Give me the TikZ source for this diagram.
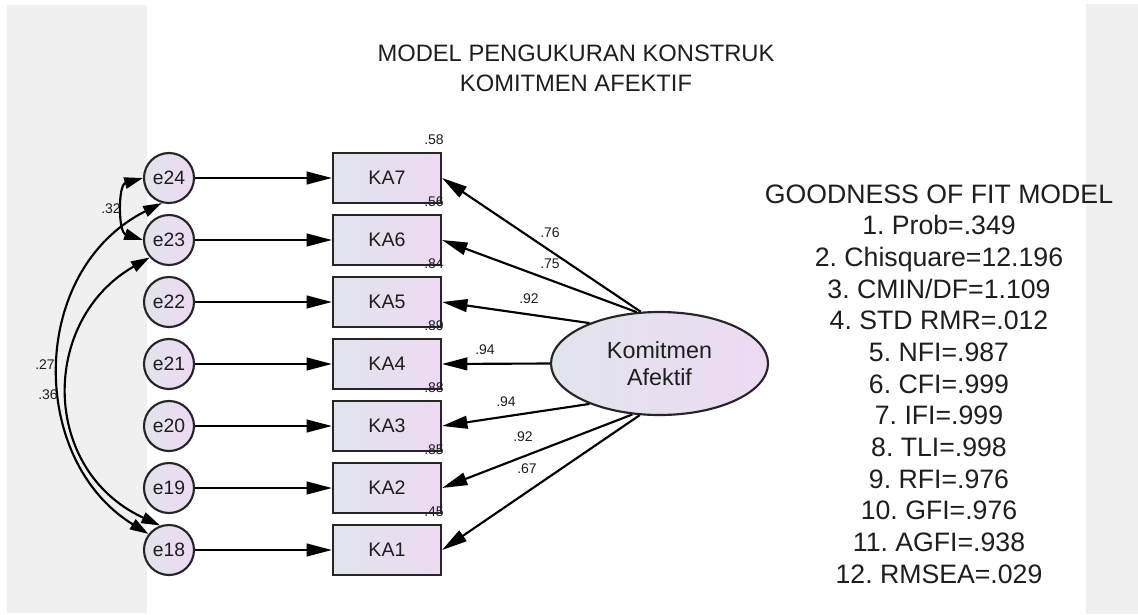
\documentclass[tikz,border=0pt]{standalone}
\usepackage{fontspec}
\setmainfont{Liberation Sans}
\usetikzlibrary{arrows.meta,shapes.geometric}
\definecolor{panel}{HTML}{F0F0F0}
\definecolor{fillL}{HTML}{E1E4EC}
\definecolor{fillR}{HTML}{EDDAF3}
\definecolor{ink}{HTML}{1E1E1E}
\definecolor{edge}{HTML}{262626}
\frenchspacing
\begin{document}
\begin{tikzpicture}[x=0.75pt,y=-0.75pt,
  every node/.style={text=ink},
  err/.style={circle,draw=edge,line width=1.6pt,left color=fillL,right color=fillR,minimum size=37.5pt,inner sep=0pt,font=\fontsize{14.5}{17}\selectfont},
  ind/.style={rectangle,draw=edge,line width=1.6pt,left color=fillL,right color=fillR,minimum width=81pt,minimum height=37.5pt,inner sep=0pt,font=\fontsize{14.7}{17}\selectfont},
  lat/.style={ellipse,draw=edge,line width=1.6pt,left color=fillL,right color=fillR,minimum width=162.75pt,minimum height=77.25pt,inner sep=0pt,align=center,font=\fontsize{17.5}{20.25}\selectfont},
  arr/.style={draw=black,line width=1.6pt,-{Triangle[length=19pt,width=9.5pt]}},
  cov/.style={draw=black,line width=1.6pt,{Triangle[length=14pt,width=8.5pt]}-{Triangle[length=14pt,width=8.5pt]}},
  val/.style={font=\fontsize{10.5}{12}\selectfont,inner sep=0pt},
  ttl/.style={font=\fontsize{17.8}{21}\selectfont,anchor=base,inner sep=0pt},
  gof/.style={font=\fontsize{20}{24}\selectfont,anchor=base,inner sep=0pt}
]
\useasboundingbox (0,0) rectangle (1138,614);
\fill[white] (0,0) rectangle (1138,614);
\fill[panel] (7,5) rectangle (147,613);
\fill[panel] (1086,4) rectangle (1138,614);

% title
\node[ttl] (t1) at (576,61.7) {MODEL PENGUKURAN KONSTRUK};
\node[ttl] (t2) at (576,91.7) {KOMITMEN AFEKTIF};

% error terms and indicators
\foreach \n/\y in {24/178,23/240,22/302,21/364,20/426,19/488,18/550}
  \node[err] (e\n) at (169,\y) {e\n};
\foreach \k/\y in {7/178,6/240,5/302,4/364,3/426,2/488,1/550}
  \node[ind] (KA\k) at (387,\y) {KA\k};

% latent
\node[lat] (K) at (659.5,363.5) {Komitmen\\Afektif};

% error -> indicator
\foreach \n/\k in {24/7,23/6,22/5,21/4,20/3,19/2,18/1}
  \draw[arr] (e\n) -- (KA\k);

% loadings
\foreach \k/\a in {7/110,6/114,5/150,4/180,3/210,2/242,1/249}
  \draw[arr] (K.\a) -- (KA\k.east);

% squared multiple correlations
\foreach \k/\y/\v in {7/178/.58,6/240/.56,5/302/.84,4/364/.89,3/426/.88,2/488/.85,1/550/.45}
  \node[val] (r\k) at (434,\y-38) {\v};

% loading values
\node[val] (l7) at (550,233) {.76};
\node[val] (l6) at (550,264) {.75};
\node[val] (l5) at (529,299) {.92};
\node[val] (l4) at (485,350) {.94};
\node[val] (l3) at (506,402) {.94};
\node[val] (l2) at (523,437) {.92};
\node[val] (l1) at (527,469) {.67};

% covariances
\draw[cov] (e24.west) .. controls (118,185) and (118,232) .. (e23.west);
\draw[cov] (e24.254) .. controls (28,270) and (28,460) .. (e18.142);
\draw[cov] (e23.222) .. controls (40,320) and (40,470) .. (e18.110);
\node[val] (c32) at (111,209) {.32};
\node[val] (c27) at (45,365) {.27};
\node[val] (c36) at (48,395) {.36};

% goodness of fit
\foreach \t [count=\i from 0] in {GOODNESS OF FIT MODEL,1. Prob=.349,2. Chisquare=12.196,3. CMIN/DF=1.109,4. STD RMR=.012,5. NFI=.987,6. CFI=.999,7. IFI=.999,8. TLI=.998,9. RFI=.976,10. GFI=.976,11. AGFI=.938,12. RMSEA=.029}
  \node[gof] (g\i) at (939,203+31.67*\i) {\t};
\end{tikzpicture}
\end{document}
